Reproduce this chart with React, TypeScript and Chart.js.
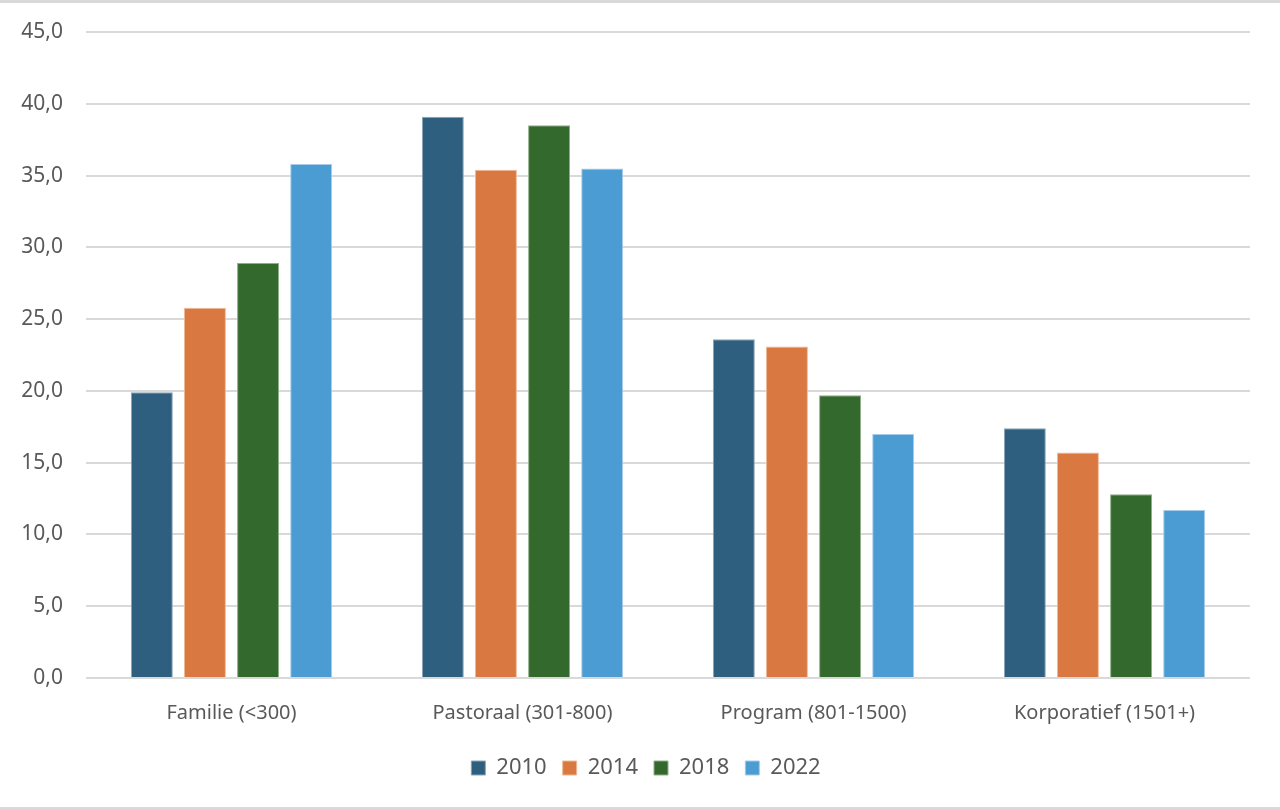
import { useEffect, useRef } from "react"
import { Chart, registerables, ChartConfiguration } from "chart.js"

Chart.register(...registerables)

const categories = ["Familie (<300)", "Pastoraal (301-800)", "Program (801-1500)", "Korporatief (1501+)"]
const years = ["2010", "2014", "2018", "2022"]
const values2010 = [19.9, 39.1, 23.6, 17.4]
const values2014 = [25.8, 35.4, 23.1, 15.7]
const values2018 = [28.9, 38.5, 19.7, 12.8]
const values2022 = [35.8, 35.5, 17.0, 11.7]
const colors = ["#2E5F7F", "#D97841", "#33692D", "#4A9CD2"]
const borders = ["#8aa4b8", "#efb896", "#8fae8a", "#a7cbe8"]

const FONT = "'Noto Sans', sans-serif"

// legend sits a bit right of the canvas centre, under the plot area
const legendShift = {
  id: "legendShift",
  afterLayout(chart: any) {
    const lg = chart.legend
    if (!lg) return
    lg.left += 21
    lg.right += 21
  },
}

export default function App() {
  const chartRef = useRef<HTMLCanvasElement>(null)
  const chartInstance = useRef<Chart | null>(null)

  useEffect(() => {
    document.body.style.margin = "0"
    if (!chartRef.current) return
    if (chartInstance.current) chartInstance.current.destroy()
    const ctx = chartRef.current.getContext("2d")
    if (!ctx) return

    const series = [values2010, values2014, values2018, values2022]

    const config: ChartConfiguration = {
      type: "bar",
      data: {
        labels: categories,
        datasets: series.map((data, i) => ({
          label: years[i],
          data,
          backgroundColor: colors[i],
          borderColor: borders[i],
          borderWidth: 1,
          categoryPercentage: 0.73,
          barPercentage: 0.79,
        })),
      },
      options: {
        responsive: false,
        animation: false,
        layout: { padding: { top: 32, right: 30, bottom: 15, left: 0 } },
        plugins: {
          legend: {
            position: "bottom",
            labels: {
              boxWidth: 14,
              boxHeight: 14,
              padding: 16,
              color: "#595959",
              font: { family: FONT, size: 22 },
            },
          },
          tooltip: { enabled: false },
        },
        scales: {
          x: {
            grid: { display: false },
            border: { display: false },
            ticks: {
              color: "#595959",
              padding: 15,
              font: { family: FONT, size: 20 },
            },
            afterFit: (scale: any) => {
              scale.height = 63
            },
          },
          y: {
            min: 0,
            max: 45,
            grid: { color: "#d9d9d9", lineWidth: 2, drawTicks: false },
            border: { display: false },
            ticks: {
              stepSize: 5,
              padding: 23,
              color: "#595959",
              font: { family: FONT, size: 21 },
              callback: (v: any) => Number(v).toFixed(1).replace(".", ","),
            },
            afterFit: (scale: any) => {
              scale.width = 86
              scale.paddingTop = 0
              scale.paddingBottom = 0
            },
          },
        },
      },
      plugins: [legendShift],
    }

    chartInstance.current = new Chart(ctx, config)

    return () => {
      if (chartInstance.current) chartInstance.current.destroy()
    }
  }, [])

  return (
    <div
      style={{
        position: "relative",
        width: 1280,
        height: 810,
        background: "#fff",
        boxSizing: "border-box",
        borderTop: "3px solid #d9d9d9",
        borderBottom: "3px solid #d9d9d9",
        overflow: "hidden",
      }}
    >
      <canvas
        ref={chartRef}
        width={1280}
        height={804}
        style={{ position: "absolute", left: 0, top: -3, width: 1280, height: 804 }}
      />
    </div>
  )
}
